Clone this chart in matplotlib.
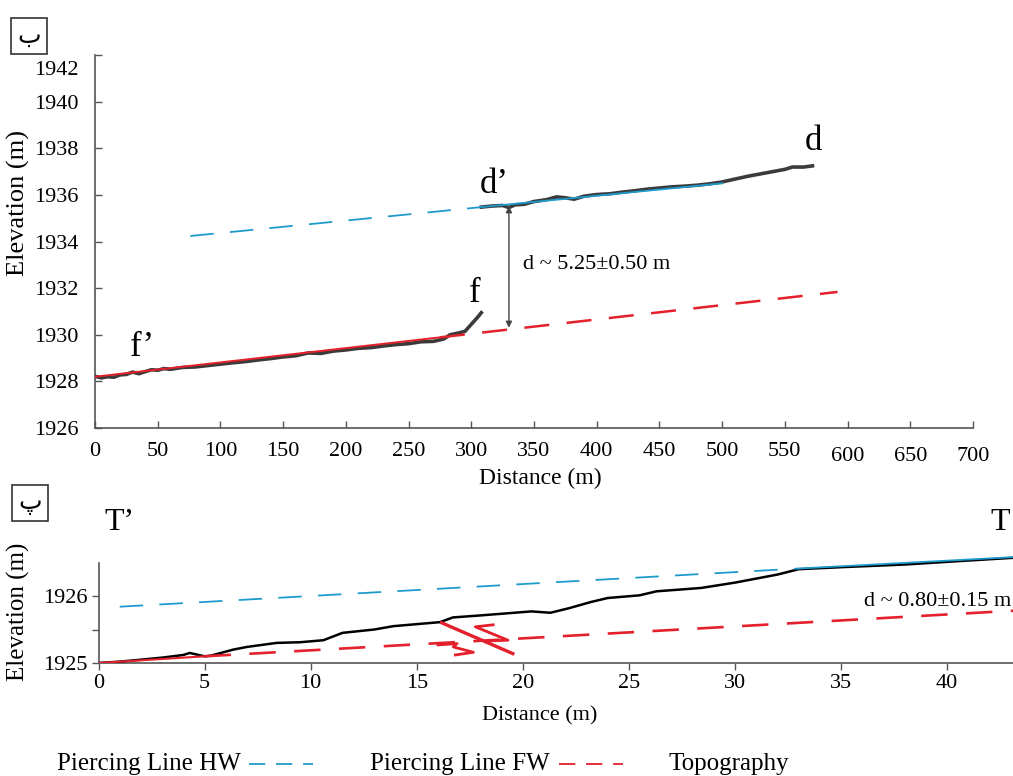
import matplotlib
matplotlib.use("Agg")
import matplotlib.pyplot as plt
import matplotlib.transforms as mtransforms
from matplotlib.lines import Line2D

plt.rcParams['font.family'] = ['Liberation Serif', 'DejaVu Sans']

# ---------------- data: top panel ----------------
fw_topo_x = [0, 5, 10, 15, 20, 25, 30, 35, 40, 45, 50, 55, 60, 70, 80, 90, 100, 110,
             120, 130, 140, 150, 160, 170, 180, 190, 200, 210, 220, 230, 240, 250,
             260, 270, 278, 283, 290, 295, 300, 305, 308]
fw_topo_y = [1928.22, 1928.15, 1928.20, 1928.18, 1928.28, 1928.30, 1928.40, 1928.33,
             1928.42, 1928.50, 1928.48, 1928.55, 1928.52, 1928.60, 1928.62, 1928.68,
             1928.74, 1928.80, 1928.85, 1928.92, 1928.98, 1929.05, 1929.10, 1929.22,
             1929.20, 1929.30, 1929.35, 1929.42, 1929.45, 1929.52, 1929.58, 1929.62,
             1929.70, 1929.72, 1929.82, 1930.00, 1930.08, 1930.15, 1930.45, 1930.75,
             1930.95]
hw_topo_x = [308, 315, 325, 330, 335, 342, 350, 360, 368, 375, 382, 390, 400, 410,
             420, 430, 440, 450, 460, 470, 480, 490, 500, 510, 520, 530, 540, 550,
             556, 565, 572]
hw_topo_y = [1935.48, 1935.52, 1935.55, 1935.46, 1935.58, 1935.60, 1935.72, 1935.80,
             1935.92, 1935.88, 1935.82, 1935.95, 1936.02, 1936.05, 1936.12, 1936.18,
             1936.25, 1936.30, 1936.35, 1936.38, 1936.42, 1936.48, 1936.56, 1936.68,
             1936.80, 1936.90, 1937.00, 1937.10, 1937.20, 1937.20, 1937.25]
hw_pierce_x = [76, 308, 500]
hw_pierce_y = [1934.24, 1935.48, 1936.50]
fw_pierce_x = [0, 275, 592]
fw_pierce_y = [1928.20, 1929.89, 1931.84]
top_offset_x = 330
top_offset_y = [1930.30, 1935.52]
top_xticks = [0, 50, 100, 150, 200, 250, 300, 350, 400, 450, 500, 550, 600, 650, 700]
top_yticks = [1926, 1928, 1930, 1932, 1934, 1936, 1938, 1940, 1942]

# ---------------- data: bottom panel ----------------
b_topo_x = [0, 1, 2, 3, 4, 4.3, 5, 5.3, 6.35, 7, 8.4, 9.5, 10.6, 11.5, 13, 13.9,
            16.1, 16.7, 18.0, 19.2, 20.4, 21.3, 22.2, 23.2, 24.0, 25.5, 26.3, 28.4,
            30, 32, 33, 35, 38, 40, 43.1]
b_topo_y = [1925.00, 1925.02, 1925.05, 1925.08, 1925.12, 1925.15, 1925.10, 1925.11,
            1925.20, 1925.24, 1925.30, 1925.31, 1925.34, 1925.45, 1925.50, 1925.55,
            1925.61, 1925.68, 1925.71, 1925.74, 1925.77, 1925.75, 1925.82, 1925.91,
            1925.97, 1926.01, 1926.07, 1926.12, 1926.20, 1926.32, 1926.40, 1926.43,
            1926.47, 1926.51, 1926.57]
b_hw_x = [1.0, 33.0, 43.1]
b_hw_y = [1925.84, 1926.41, 1926.58]
b_fw_x = [0, 5, 43.1]
b_fw_y = [1925.00, 1925.10, 1925.78]
bot_xticks = [0, 5, 10, 15, 20, 25, 30, 35, 40]
bot_yticks = [1925, 1925.5, 1926]
bot_ylabels = ['1925', '', '1926']

TOPO = '#3b3b3b'
BLUE = '#1e9bcc'
RED = '#e3202c'
SPINE = '#555555'

W, H = 1013, 776
fig = plt.figure(figsize=(W / 100, H / 100), dpi=100)


def px_axes(l, r, b, t):
    return fig.add_axes([l / W, 1 - b / H, (r - l) / W, (b - t) / H])


# ================= TOP PANEL =================
ax = px_axes(95, 973, 428, 55.2)
ax.set_xlim(0, 700)
ax.set_ylim(1926, 1942)
for s in ['top', 'right']:
    ax.spines[s].set_visible(False)
for s in ['left', 'bottom']:
    ax.spines[s].set_color(SPINE)
    ax.spines[s].set_linewidth(1.2)

ax.plot(fw_topo_x, fw_topo_y, color=TOPO, lw=2.6, zorder=3, solid_joinstyle='miter')
ax.plot(hw_topo_x, hw_topo_y, color=TOPO, lw=2.6, zorder=3, solid_joinstyle='miter')
# piercing lines: solid where fitted on topography, dashed elsewhere
ax.plot(hw_pierce_x[:2], hw_pierce_y[:2], color=BLUE, lw=1.3, dashes=(13, 9), zorder=4)
ax.plot(hw_pierce_x[1:], hw_pierce_y[1:], color=BLUE, lw=1.3, zorder=4)
ax.plot(fw_pierce_x[:2], fw_pierce_y[:2], color=RED, lw=1.4, zorder=4)
ax.plot(fw_pierce_x[1:], fw_pierce_y[1:], color=RED, lw=1.8, dashes=(10, 7), zorder=4)

ax.annotate('', xy=(top_offset_x, top_offset_y[0]), xytext=(top_offset_x, top_offset_y[1]),
            arrowprops=dict(arrowstyle='<|-|>', color='#444444', lw=1.0,
                            mutation_scale=9, shrinkA=0, shrinkB=0), zorder=5)
ax.text(341, 1933.0, 'd ~ 5.25\u00b10.50 m', fontsize=16, va='center', ha='left')

ax.text(573, 1937.6, 'd', fontsize=25, ha='center', va='bottom')
ax.text(318, 1935.75, 'd\u2019', fontsize=25, ha='center', va='bottom')
ax.text(303, 1931.05, 'f', fontsize=25, ha='center', va='bottom')
ax.text(38, 1928.75, 'f\u2019', fontsize=25, ha='center', va='bottom')

ax.set_xticks(top_xticks)
ax.set_xticklabels([str(v) for v in top_xticks])
ax.set_yticks(top_yticks)
ax.set_yticklabels([str(v) for v in top_yticks])
ax.tick_params(direction='in', length=5, width=1, color=SPINE, labelsize=16, pad=10)
ax.tick_params(axis='y', pad=12)
# quirks of the original: last x labels and the 1942 label sit lower
for lab, v in zip(ax.get_xticklabels(), top_xticks):
    if v >= 600:
        lab.set_transform(lab.get_transform() + mtransforms.ScaledTranslation(0, -5 / 100, fig.dpi_scale_trans))
for lab, v in zip(ax.get_yticklabels(), top_yticks):
    if v == 1942:
        lab.set_transform(lab.get_transform() + mtransforms.ScaledTranslation(0, -13 / 100, fig.dpi_scale_trans))

fig.text(540 / W, 1 - 478 / H, 'Distance (m)', fontsize=17, ha='center', va='center')
fig.text(18 / W, 1 - 203 / H, 'Elevation (m)', fontsize=19, ha='center', va='center', rotation=90)

# panel label boxes
fig.text(29 / W, 1 - 36 / H, '\u0628', fontsize=18, ha='center', va='center',
         family=['DejaVu Sans'],
         bbox=dict(boxstyle='square,pad=0.25', fc='white', ec='#333333', lw=1.2))
fig.text(30 / W, 1 - 503 / H, '\u067e', fontsize=18, ha='center', va='center',
         family=['DejaVu Sans'],
         bbox=dict(boxstyle='square,pad=0.25', fc='white', ec='#333333', lw=1.2))

# ================= BOTTOM PANEL =================
bx = px_axes(98.5, 1013, 663, 555.8)
bx.set_xlim(0, 43.1)
bx.set_ylim(1925, 1926.6)
for s in ['top', 'right']:
    bx.spines[s].set_visible(False)
for s in ['left', 'bottom']:
    bx.spines[s].set_color(SPINE)
    bx.spines[s].set_linewidth(1.2)
bx.spines['left'].set_bounds(1925, 1926.5)

bx.plot(b_topo_x, b_topo_y, color='black', lw=1.8, zorder=3)
bx.plot(b_hw_x[:2], b_hw_y[:2], color=BLUE, lw=1.3, dashes=(13, 9), zorder=4)
bx.plot(b_hw_x[1:], b_hw_y[1:], color=BLUE, lw=1.3, zorder=4)
bx.plot(b_fw_x[:2], b_fw_y[:2], color=RED, lw=1.5, zorder=4)
bx.plot(b_fw_x[1:], b_fw_y[1:], color=RED, lw=1.9, dashes=(10, 7), zorder=4)

# fault symbol (normal fault with offset half-arrows)
fk = dict(color=RED, lw=2.4, solid_capstyle='butt', zorder=5)
bx.plot([16.1, 19.6], [1925.61, 1925.13], **fk)
bx.plot([18.6, 17.76, 19.3, 18.4], [1925.57, 1925.54, 1925.34, 1925.33], color=RED, lw=2.0, zorder=5)
bx.plot([16.0, 16.9, 16.72, 17.67, 16.82], [1925.27, 1925.29, 1925.24, 1925.16, 1925.12], color=RED, lw=2.0, zorder=5)

bx.text(43.0, 1925.92, 'd ~ 0.80\u00b10.15 m', fontsize=16, ha='right', va='center')

bx.set_xticks(bot_xticks)
bx.set_xticklabels([str(v) for v in bot_xticks])
bx.set_yticks(bot_yticks)
bx.set_yticklabels(bot_ylabels)
bx.tick_params(direction='out', length=5, width=1, color=SPINE, labelsize=16, pad=3)

fig.text(540 / W, 1 - 716 / H, 'Distance (m)', fontsize=16, ha='center', va='center')
fig.text(18 / W, 1 - 612 / H, 'Elevation (m)', fontsize=18, ha='center', va='center', rotation=90)
fig.text(119 / W, 1 - 522 / H, 'T\u2019', fontsize=23, ha='center', va='center')
fig.text(1000 / W, 1 - 522 / H, 'T', fontsize=23, ha='center', va='center')

# ================= LEGEND =================
ly = 1 - 764 / H
fig.text(57 / W, ly, 'Piercing Line HW', fontsize=18, ha='left', va='center')
fig.add_artist(Line2D([249 / W, 313 / W], [ly, ly], color=BLUE, lw=1.3, dashes=(9, 6)))
fig.text(370 / W, ly, 'Piercing Line FW', fontsize=18, ha='left', va='center')
fig.add_artist(Line2D([559 / W, 623 / W], [ly, ly], color=RED, lw=1.3, dashes=(9, 6)))
fig.text(668 / W, ly, 'Topography', fontsize=18, ha='left', va='center')

fig.savefig('out.png', dpi=100)
